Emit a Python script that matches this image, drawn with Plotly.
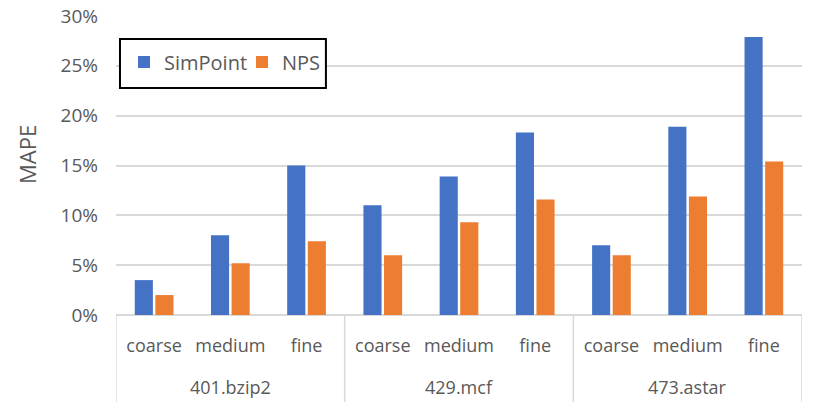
import plotly.graph_objects as go

group_names = ["401.bzip2", "429.mcf", "473.astar"]
granularities = ["coarse", "medium", "fine"]
groups = [g for g in group_names for _ in granularities]
granularity = granularities * 3
simpoint = [3.5, 8.0, 15.0, 11.0, 13.9, 18.3, 7.0, 18.9, 27.9]
nps = [2.0, 5.2, 7.4, 6.0, 9.3, 11.6, 6.0, 11.9, 15.4]
y_ticks = [0, 5, 10, 15, 20, 25, 30]

categories = [f"{g}|{s}" for g, s in zip(groups, granularity)]

FONT = "Open Sans"
GRAY = "#595959"
LINE = "#d9d9d9"

fig = go.Figure()
fig.add_trace(go.Bar(x=categories, y=simpoint, name="SimPoint",
                     marker=dict(color="#4472C4", line=dict(width=0))))
fig.add_trace(go.Bar(x=categories, y=nps, name="NPS",
                     marker=dict(color="#ED7D31", line=dict(width=0))))

# group labels and dividers
n = len(granularities)
for i, g in enumerate(group_names):
    fig.add_annotation(x=i * n + (n - 1) / 2, y=-0.242, xref="x", yref="paper",
                       text=g, showarrow=False, yanchor="middle",
                       font=dict(family=FONT, size=18, color=GRAY))
for k in range(len(group_names) + 1):
    fig.add_shape(type="line", xref="x", yref="paper",
                  x0=k * n - 0.5, x1=k * n - 0.5, y0=0, y1=-0.33,
                  line=dict(color=LINE, width=1.5))

# y axis title
fig.add_annotation(x=-0.13, y=0.538, xref="paper", yref="paper", text="MAPE",
                   textangle=-90, showarrow=False, xanchor="center", yanchor="middle",
                   font=dict(family=FONT, size=22, color=GRAY))

# legend frame
fig.add_shape(type="rect", xref="paper", yref="paper",
              x0=0.0058, x1=0.306, y0=0.759, y1=0.923,
              line=dict(color="black", width=2), fillcolor="white", layer="above")

fig.update_layout(
    width=827, height=402,
    margin=dict(l=108, r=33, t=8, b=95),
    paper_bgcolor="white", plot_bgcolor="white",
    barmode="group", bargap=0.46, bargroupgap=0.12,
    font=dict(family=FONT, size=19, color=GRAY),
    showlegend=True,
    legend=dict(orientation="h", x=0.0117, y=0.846, xanchor="left", yanchor="middle",
                borderwidth=0, bgcolor="rgba(0,0,0,0)",
                font=dict(family=FONT, size=20, color=GRAY),
                itemsizing="constant", entrywidth=73, entrywidthmode="pixels"),
)
fig.update_yaxes(range=[0, 30], tickvals=y_ticks, ticktext=[f"{v}%" for v in y_ticks],
                 showgrid=True, gridcolor=LINE, gridwidth=1.5,
                 zeroline=True, zerolinecolor=LINE, zerolinewidth=1.5,
                 showline=False, ticks="", ticklen=0, automargin=False, ticklabelstandoff=17,
                 ticklabeloverflow="allow",
                 tickfont=dict(family=FONT, size=19, color=GRAY))
fig.update_xaxes(tickvals=categories, ticktext=granularity, range=[-0.5, len(categories) - 0.5],
                 showline=False, ticks="", automargin=False, ticklabelstandoff=18,
                 tickfont=dict(family=FONT, size=18, color=GRAY), showgrid=False)

fig.write_html("out.html")
